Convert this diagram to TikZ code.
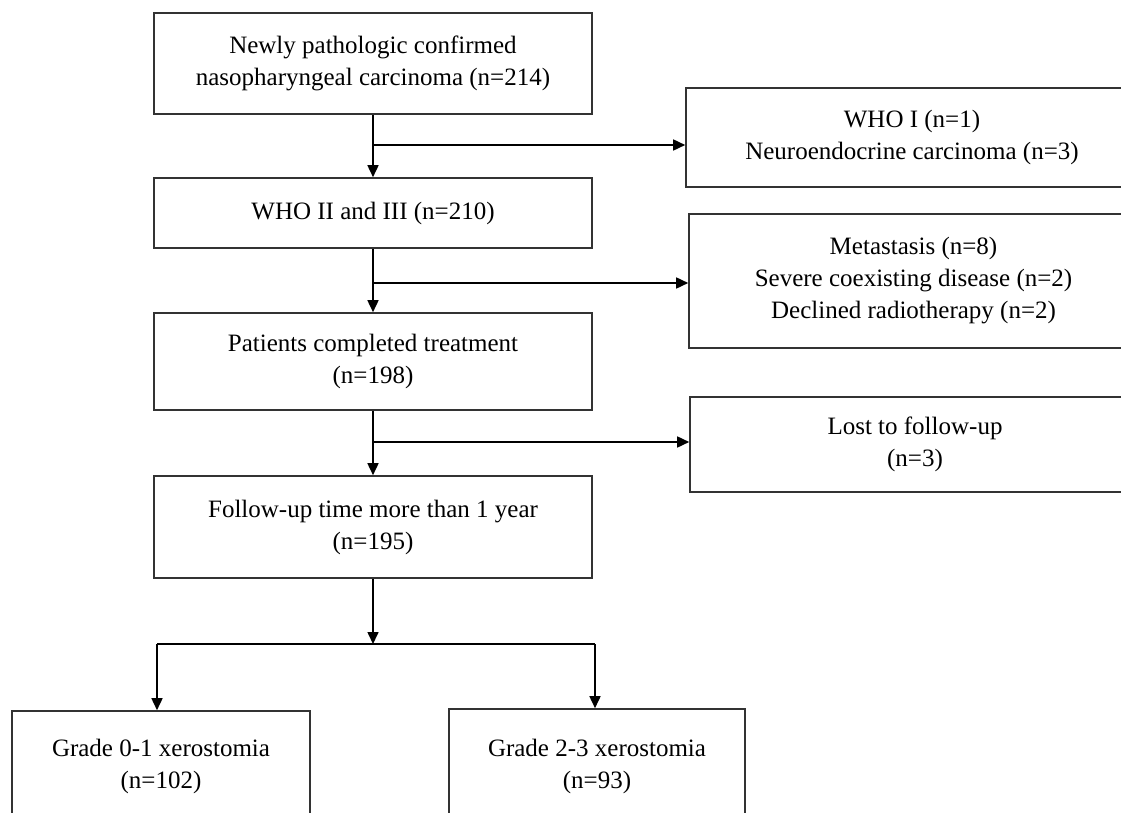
\documentclass[tikz,border=0pt]{standalone}
\usepackage{fontspec}
\setmainfont{Liberation Serif}
\usetikzlibrary{arrows.meta}

\begin{document}
\begin{tikzpicture}[x=1pt,y=-1pt,
  box/.style={draw=black!80,line width=1.6pt,rectangle,inner sep=0pt,align=center,
    font=\fontsize{25}{32}\selectfont},
  arr/.style={line width=1.6pt,-{Triangle[length=12pt,width=11pt]}},
  link/.style={line width=1.6pt}]
\clip (0,0) rectangle (1121,813);
\fill[white] (0,0) rectangle (1121,813);
% main column
\node[box,minimum width=438,minimum height=101] (start) at (373,63.5) {Newly pathologic confirmed\\nasopharyngeal carcinoma (n=214)};
\node[box,minimum width=438,minimum height=70] (who) at (373,213) {WHO II and III (n=210)};
\node[box,minimum width=438,minimum height=97] (treat) at (373,361.5) {Patients completed treatment\\(n=198)};
\node[box,minimum width=438,minimum height=102] (follow) at (373,527) {Follow-up time more than 1 year\\(n=195)};
% excluded
\node[box,minimum width=452,minimum height=99] (excl1) at (912,137.5) {WHO I (n=1)\\Neuroendocrine carcinoma (n=3)};
\node[box,minimum width=449,minimum height=134] (excl2) at (913.5,281) {Metastasis (n=8)\\Severe coexisting disease (n=2)\\Declined radiotherapy (n=2)};
\node[box,minimum width=450,minimum height=95] (excl3) at (915,444.5) {Lost to follow-up\\(n=3)};
% outcome groups
\node[box,minimum width=298,minimum height=110] (low) at (161,766) {Grade 0-1 xerostomia\\(n=102)};
\node[box,minimum width=296,minimum height=114] (high) at (597,766) {Grade 2-3 xerostomia\\(n=93)};

\coordinate (b1) at (373,145);
\coordinate (b2) at (373,283);
\coordinate (b3) at (373,442);
\coordinate (split) at (373,644);
\coordinate (sl) at (157,644);
\coordinate (sr) at (595,644);

\draw[arr] (start.south) -- (who.north);
\draw[arr] (b1) -- (b1 -| excl1.west);
\draw[arr] (who.south) -- (treat.north);
\draw[arr] (b2) -- (b2 -| excl2.west);
\draw[arr] (treat.south) -- (follow.north);
\draw[arr] (b3) -- (b3 -| excl3.west);
\draw[arr] (follow.south) -- (split);
\draw[link] (sl) -- (sr);
\draw[arr] (sl) -- (sl |- low.north);
\draw[arr] (sr) -- (sr |- high.north);
\end{tikzpicture}
\end{document}
